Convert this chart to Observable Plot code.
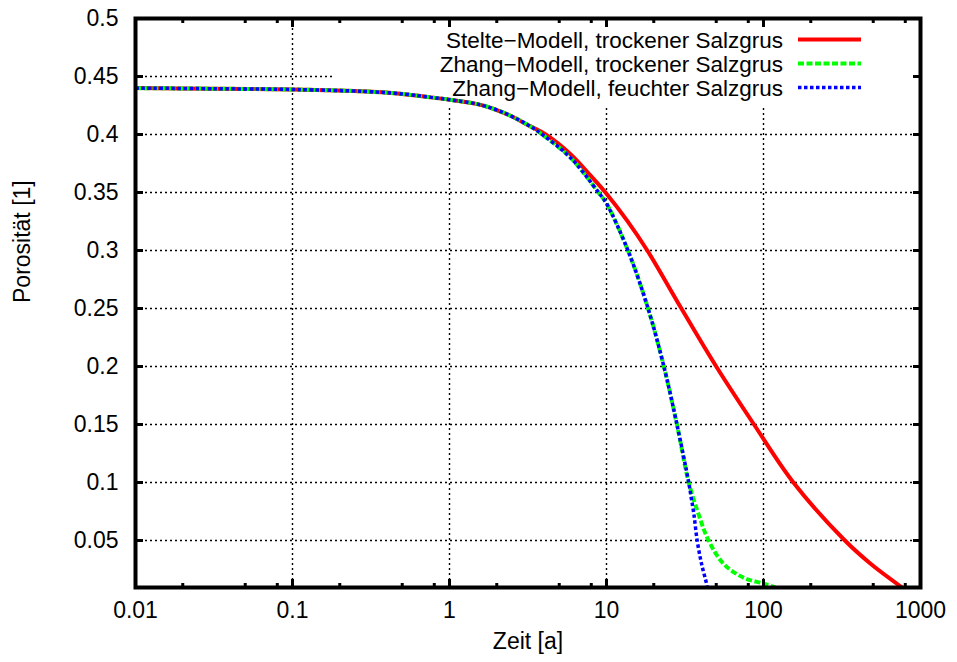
<!DOCTYPE html>
<html><head><meta charset="utf-8">
<script src="https://cdn.jsdelivr.net/npm/d3@7"></script>
<script src="https://cdn.jsdelivr.net/npm/@observablehq/plot@0.6"></script>
<style>
html,body{margin:0;padding:0;background:#fff}
#chart{width:957px;height:662px}
</style>
</head><body><div id="chart"></div>
<script>
// ---------- data ----------
const seriesNames = ["Stelte\u2212Modell, trockener Salzgrus", "Zhang\u2212Modell, trockener Salzgrus", "Zhang\u2212Modell, feuchter Salzgrus"];

const stelteZeit = [0.01,0.03,0.1,0.3,0.5,0.76,1,1.58,2.28,3.28,4.1,5.9,7.9,10,13.5,18.2,30,50,87,155,330,481,764];
const steltePorositaet = [0.44,0.4395,0.4388,0.437,0.435,0.432,0.430,0.4255,0.418,0.407,0.40,0.383,0.3647,0.349,0.326,0.30,0.25,0.20,0.15,0.10,0.05,0.03,0.0095];

const zhangTrockenZeit = [0.01,0.03,0.1,0.3,0.5,0.76,1,1.58,2.28,3.28,3.9,5.9,8.9,10,13.7,18.4,23.2,28.1,33.4,38.5,44.7,55.6,74.6,100,119];
const zhangTrockenPorositaet = [0.44,0.4395,0.4388,0.437,0.435,0.432,0.430,0.4255,0.418,0.407,0.40,0.380,0.35,0.3405,0.30,0.25,0.20,0.15,0.10,0.073,0.05,0.03,0.018,0.0129,0.0095];

const zhangFeuchtZeit = [0.01,0.03,0.1,0.3,0.5,0.76,1,1.58,2.28,3.28,3.9,5.9,8.9,10,13.7,18.4,23.2,28.1,33.4,34.6,36.0,37.8,40.3,43.4,43.8];
const zhangFeuchtPorositaet = [0.44,0.4395,0.4388,0.437,0.435,0.432,0.430,0.4255,0.418,0.407,0.40,0.380,0.35,0.3405,0.30,0.25,0.20,0.15,0.10,0.0874,0.073,0.05,0.03,0.0127,0.0095];

const xTicks = [0.01,0.1,1,10,100,1000];
const xMinorTicks = [0.02,0.05,0.08,0.2,0.5,0.8,2,5,8,20,50,80,200,500,800];
const xGridTicks = [0.1,1,10,100];
const yTicks = [0.05,0.1,0.15,0.2,0.25,0.3,0.35,0.4,0.45,0.5];
const yGridTicks = [0.05,0.1,0.15,0.2,0.25,0.3,0.35,0.4,0.45];

const xLabel = "Zeit [a]";
const yLabel = "Porosit\u00e4t [1]";

// ---------- tables ----------
const toRows = (xs, ys) => xs.map((t, i) => ({t, p: ys[i]}));
const stelte = toRows(stelteZeit, steltePorositaet);
const zhangTrocken = toRows(zhangTrockenZeit, zhangTrockenPorositaet);
const zhangFeucht = toRows(zhangFeuchtZeit, zhangFeuchtPorositaet);

const FONT = "'Liberation Sans', Arial, Helvetica, sans-serif";
const FS = 23;

// key box (hides grid behind the key, like gnuplot)
function keyBox(index, scales, values, dims) {
  const g = d3.create("svg:g");
  g.append("rect").attr("x", 334).attr("y", 20).attr("width", dims.width - dims.marginRight - 336).attr("height", 85).attr("fill", "white");
  return g.node();
}

const legendStyles = [
  {stroke: "#ff0000", dash: null, w: 4},
  {stroke: "#00ff00", dash: "6,2.5", w: 4},
  {stroke: "#0000ff", dash: "3.5,2.5", w: 3.5}
];
function legend(index, scales, values, dims) {
  const g = d3.create("svg:g").attr("font-family", FONT).attr("font-size", 22.5);
  seriesNames.forEach((name, i) => {
    const base = 48 + i * 24;
    g.append("text").attr("x", 783).attr("y", base).attr("text-anchor", "end").attr("fill", "black").text(name);
    const ln = g.append("line").attr("x1", 798).attr("x2", 861).attr("y1", base - 8.5).attr("y2", base - 8.5)
      .attr("stroke", legendStyles[i].stroke).attr("stroke-width", legendStyles[i].w);
    if (legendStyles[i].dash) ln.attr("stroke-dasharray", legendStyles[i].dash);
  });
  return g.node();
}

const fmt = d => String(d);
const gridStyle = {stroke: "black", strokeOpacity: 1, strokeWidth: 1.4, strokeDasharray: "2,3"};
const lineBase = {x: "t", y: "p", curve: "catmull-rom", clip: true, strokeLinecap: "butt", strokeLinejoin: "miter"};

const plot = Plot.plot({
  width: 957,
  height: 662,
  marginLeft: 135,
  marginRight: 37,
  marginTop: 18,
  marginBottom: 75,
  style: {fontFamily: FONT, fontSize: FS + "px", background: "white", color: "black"},
  x: {type: "log", domain: [0.01, 1000]},
  y: {domain: [0.0095, 0.5]},
  marks: [
    Plot.gridX(xGridTicks, gridStyle),
    Plot.gridY(yGridTicks, gridStyle),
    keyBox,
    Plot.line(stelte, {...lineBase, stroke: "#ff0000", strokeWidth: 4}),
    Plot.line(zhangTrocken, {...lineBase, stroke: "#00ff00", strokeWidth: 4, strokeDasharray: "6,2.5"}),
    Plot.line(zhangFeucht, {...lineBase, stroke: "#0000ff", strokeWidth: 3.5, strokeDasharray: "3.5,2.5"}),
    // tick labels
    Plot.axisX(xTicks, {anchor: "bottom", tickSize: 0, tickPadding: 14, tickFormat: fmt, label: null, fontSize: FS}),
    Plot.axisY(yTicks, {anchor: "left", tickSize: 0, tickPadding: 17, tickFormat: fmt, label: null, fontSize: FS}),
    // inward ticks (bottom/top/left/right)
    Plot.axisX(xTicks, {anchor: "bottom", tickSize: 8, dy: -8, text: null, label: null, strokeWidth: 3}),
    Plot.axisX(xTicks, {anchor: "top", tickSize: 8, dy: 8, text: null, label: null, strokeWidth: 3}),
    Plot.axisX(xMinorTicks, {anchor: "bottom", tickSize: 4, dy: -4, text: null, label: null, strokeWidth: 3}),
    Plot.axisX(xMinorTicks, {anchor: "top", tickSize: 4, dy: 4, text: null, label: null, strokeWidth: 3}),
    Plot.axisY(yTicks, {anchor: "left", tickSize: 8, dx: 8, text: null, label: null, strokeWidth: 3}),
    Plot.axisY(yTicks, {anchor: "right", tickSize: 8, dx: -8, text: null, label: null, strokeWidth: 3}),
    Plot.frame({stroke: "black", strokeWidth: 4}),
    // axis titles
    Plot.text([xLabel], {text: d => d, frameAnchor: "bottom", dy: 61, fontSize: FS, fill: "black"}),
    Plot.text([yLabel], {text: d => d, frameAnchor: "left", dx: -113, rotate: -90, fontSize: FS, fill: "black"}),
    legend
  ]
});
document.getElementById("chart").appendChild(plot);
</script>
</body></html>
